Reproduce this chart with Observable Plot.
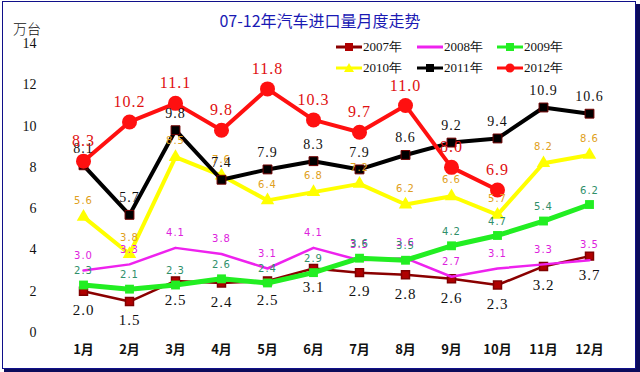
<!DOCTYPE html>
<html>
<head>
<meta charset="utf-8">
<script src="https://cdn.jsdelivr.net/npm/d3@7"></script>
<script src="https://cdn.jsdelivr.net/npm/@observablehq/plot@0.6"></script>
<style>
  html, body { margin: 0; padding: 0; background: #fff; }
  #chart { position: relative; width: 640px; height: 372px; overflow: hidden; background: #fff; }
  #chart > svg { position: absolute; left: 0; top: 0; }
  #frame { position: absolute; left: 2px; top: 1px; width: 632px; height: 366px; border: 1px solid #10108a; pointer-events: none; }
  #shadowR { position: absolute; left: 636px; top: 4px; width: 4px; height: 368px; background: #0c0c5c; }
  #shadowB { position: absolute; left: 4px; top: 369px; width: 636px; height: 3px; background: #0c0c5c; }
  #title { position: absolute; left: 0; top: 8px; width: 640px; text-align: center; font: 16px "Noto Sans CJK SC", sans-serif; color: #1a1ab4; }
  #unit { position: absolute; left: 13px; top: 18px; font: 14px "Noto Sans CJK SC", sans-serif; font-weight: 300; color: #111; }
  .leg { position: absolute; display: flex; align-items: center; font: 13px "Liberation Serif", serif; color: #111; white-space: nowrap; }
  #chart .leg svg { position: static; display: block; margin-right: 1px; }
</style>
</head>
<body>
<div id="chart">
  <div id="title">07-12年汽车进口量月度走势</div>
  <div id="unit">万台</div>
</div>
<script>
const months = ["1月","2月","3月","4月","5月","6月","7月","8月","9月","10月","11月","12月"];
const yTicks = [0, 2, 4, 6, 8, 10, 12, 14];
const seriesNames = ["2007年","2008年","2009年","2010年","2011年","2012年"];
const v2007 = [2.0, 1.5, 2.5, 2.4, 2.5, 3.1, 2.9, 2.8, 2.6, 2.3, 3.2, 3.7];
const v2008 = [3.0, 3.3, 4.1, 3.8, 3.1, 4.1, 3.5, 3.6, 2.7, 3.1, 3.3, 3.5];
const v2009 = [2.3, 2.1, 2.3, 2.6, 2.4, 2.9, 3.6, 3.5, 4.2, 4.7, 5.4, 6.2];
const v2010 = [5.6, 3.8, 8.5, 7.6, 6.4, 6.8, 7.2, 6.2, 6.6, 5.7, 8.2, 8.6];
const v2011 = [8.1, 5.7, 9.8, 7.4, 7.9, 8.3, 7.9, 8.6, 9.2, 9.4, 10.9, 10.6];
const v2012 = [8.3, 10.2, 11.1, 9.8, 11.8, 10.3, 9.7, 11.0, 8.0, 6.9];

const rows = vals => vals.map((v, i) => ({m: months[i], v}));
const d07 = rows(v2007), d08 = rows(v2008), d09 = rows(v2009),
      d10 = rows(v2010), d11 = rows(v2011), d12 = rows(v2012);
const fmt = d => d3.format(".1f")(d.v);

const serif = "'Liberation Serif', 'DejaVu Serif', serif";
const sans = "'DejaVu Sans', sans-serif";

const plot = Plot.plot({
  width: 640,
  height: 372,
  marginLeft: 78,
  marginRight: 46,
  marginTop: 43,
  marginBottom: 40,
  style: {background: "transparent", fontFamily: serif, color: "#111"},
  x: {type: "point", domain: months, padding: 0, label: null},
  y: {domain: [0, 14], label: null},
  marks: [
    Plot.axisY({ticks: yTicks, tickSize: 0, tickPadding: 42, fontSize: 14, fontFamily: serif}),
    Plot.axisX({tickSize: 0, tickPadding: 12, fontSize: 13, fontWeight: "bold", fontFamily: "'Noto Sans CJK SC', sans-serif"}),
    // 2007
    Plot.line(d07, {x: "m", y: "v", stroke: "#8a0000", strokeWidth: 2.5}),
    Plot.dot(d07, {x: "m", y: "v", symbol: "square", r: 4.5, fill: "#b00000", stroke: "#800000"}),
    // 2008
    Plot.line(d08, {x: "m", y: "v", stroke: "#ee22ee", strokeWidth: 2.5}),
    // 2009
    Plot.line(d09, {x: "m", y: "v", stroke: "#22ee22", strokeWidth: 5}),
    Plot.dot(d09, {x: "m", y: "v", symbol: "square", r: 5, fill: "#22ee22"}),
    // 2010
    Plot.line(d10, {x: "m", y: "v", stroke: "#ffff00", strokeWidth: 4}),
    Plot.dot(d10, {x: "m", y: "v", symbol: "triangle", r: 5, fill: "#ffff00"}),
    // 2011
    Plot.line(d11, {x: "m", y: "v", stroke: "#000", strokeWidth: 4}),
    Plot.dot(d11, {x: "m", y: "v", symbol: "square", r: 5, fill: "#000", stroke: "#700000", strokeWidth: 1}),
    // 2012
    Plot.line(d12, {x: "m", y: "v", stroke: "#ff1010", strokeWidth: 4}),
    Plot.dot(d12, {x: "m", y: "v", r: 7.5, fill: "#ff1010"}),
    // labels
    Plot.text(d07, {x: "m", y: "v", text: fmt, dy: 19, fill: "#111", fontSize: 15, fontFamily: serif}),
    Plot.text(d08, {x: "m", y: "v", text: fmt, dy: -15, fill: "#dd22dd", fontSize: 10, fontFamily: sans}),
    Plot.text(d09, {x: "m", y: "v", text: fmt, dy: -14, fill: "#2f8f6a", fontSize: 10, fontFamily: sans}),
    Plot.text(d10, {x: "m", y: "v", text: fmt, dy: -16, fill: "#e0a020", fontSize: 10, fontFamily: sans}),
    Plot.text(d11, {x: "m", y: "v", text: fmt, dy: -17, fill: "#111", fontSize: 14, fontFamily: serif}),
    Plot.text(d12, {x: "m", y: "v", text: fmt, dy: -20, fill: "#e01010", fontSize: 16, fontFamily: serif})
  ]
});
plot.querySelectorAll('g[aria-label="text"] text').forEach(t => t.style.letterSpacing = "1px");

const chart = document.getElementById("chart");
chart.appendChild(plot);

// legend
const legStyles = [
  {color: "#8a0000", mark: "square", mfill: "#b00000"},
  {color: "#ee22ee", mark: null},
  {color: "#22ee22", mark: "square", mfill: "#22ee22"},
  {color: "#ffff00", mark: "triangle", mfill: "#ffff00"},
  {color: "#000000", mark: "square", mfill: "#000"},
  {color: "#ff1010", mark: "circle", mfill: "#ff1010"}
];
const legPos = [[336, 47], [417, 47], [497, 47], [336, 68], [417, 68], [497, 68]];
seriesNames.forEach((name, i) => {
  const s = legStyles[i];
  const div = document.createElement("div");
  div.className = "leg";
  div.style.left = legPos[i][0] + "px";
  div.style.top = (legPos[i][1] - 8) + "px";
  div.style.height = "16px";
  let m = "";
  if (s.mark === "square") m = `<rect x="9" y="2" width="8" height="8" fill="${s.mfill}"/>`;
  if (s.mark === "circle") m = `<circle cx="13" cy="6" r="4.5" fill="${s.mfill}"/>`;
  if (s.mark === "triangle") m = `<path d="M13,1 L18,10 L8,10 Z" fill="${s.mfill}"/>`;
  div.innerHTML = `<svg width="26" height="12"><line x1="0" x2="26" y1="6" y2="6" stroke="${s.color}" stroke-width="3"/>${m}</svg><span>${name}</span>`;
  chart.appendChild(div);
});

["frame", "shadowR", "shadowB"].forEach(id => {
  const d = document.createElement("div");
  d.id = id;
  chart.appendChild(d);
});
</script>
</body>
</html>
